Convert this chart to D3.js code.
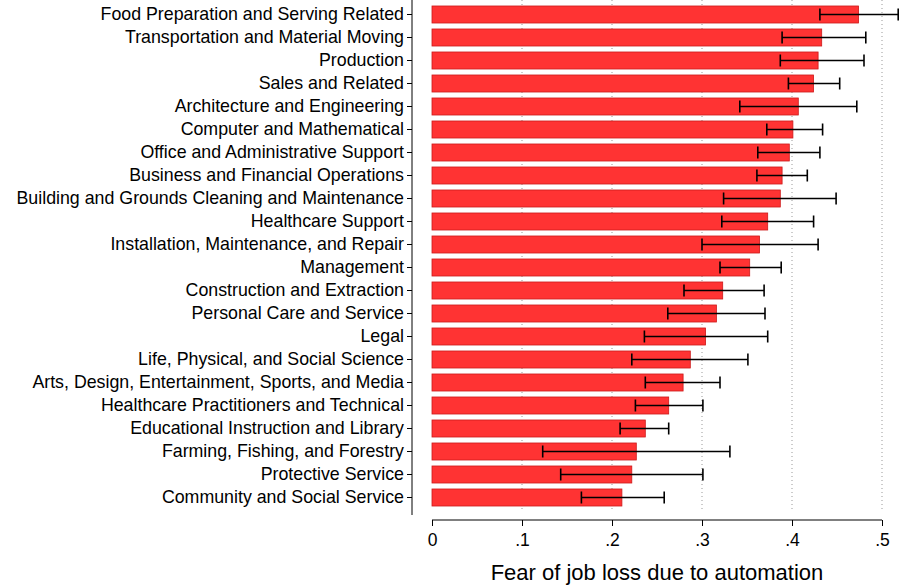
<!DOCTYPE html>
<html><head><meta charset="utf-8">
<script src="https://cdn.jsdelivr.net/npm/d3@7"></script>
<style>body{margin:0;background:#fff}</style>
</head><body>
<script>
// occupation groups, top to bottom
let categories = ['Food Preparation and Serving Related', 'Transportation and Material Moving', 'Production',
  'Sales and Related', 'Architecture and Engineering', 'Computer and Mathematical',
  'Office and Administrative Support', 'Business and Financial Operations',
  'Building and Grounds Cleaning and Maintenance', 'Healthcare Support',
  'Installation, Maintenance, and Repair', 'Management', 'Construction and Extraction',
  'Personal Care and Service', 'Legal', 'Life, Physical, and Social Science',
  'Arts, Design, Entertainment, Sports, and Media', 'Healthcare Practitioners and Technical',
  'Educational Instruction and Library', 'Farming, Fishing, and Forestry', 'Protective Service',
  'Community and Social Service']
let means = [.474, .433, .429, .424, .407, .401, .397, .389, .387, .373, .364, .353, .323, .316, .304, .287, .279, .263, .237, .227, .222, .211]
let lows = [.431, .389, .387, .396, .342, .372, .362, .361, .324, .322, .300, .320, .280, .262, .236, .222, .237, .226, .209, .123, .143, .166]
let highs = [.518, .482, .480, .453, .472, .434, .431, .417, .449, .424, .429, .388, .369, .370, .373, .351, .320, .301, .263, .331, .301, .258]
let ticks = [0, .1, .2, .3, .4, .5]
let tickLabels = ['0', '.1', '.2', '.3', '.4', '.5']

let width = 899
let height = 587
let svg = d3.select('body').append('svg').attr('width', width).attr('height', height)
  .style('font-family', 'Liberation Sans, Arial, sans-serif')

let x = d3.scaleLinear().domain([0, .5]).range([432, 882])
let y = d3.scaleBand().domain(categories).range([3, 509]).paddingInner(0.26).paddingOuter(0.13)

// dotted gridlines
svg.selectAll('.grid').data(ticks.slice(1)).join('line')
  .attr('x1', d => x(d)).attr('x2', d => x(d))
  .attr('y1', 0).attr('y2', 512)
  .attr('stroke', '#999').attr('stroke-dasharray', '1,3')

// bars
svg.selectAll('.bar').data(categories).join('rect')
  .attr('x', x(0)).attr('y', d => y(d))
  .attr('width', (d, i) => x(means[i]) - x(0)).attr('height', y.bandwidth())
  .attr('fill', '#ff3333').attr('stroke', '#cc1a1a').attr('stroke-width', 0.8)

// error bars
let g = svg.selectAll('.err').data(categories).join('g')
  .attr('transform', d => `translate(0,${y(d) + y.bandwidth() / 2})`)
g.append('line').attr('x1', (d, i) => x(lows[i])).attr('x2', (d, i) => x(highs[i]))
  .attr('stroke', '#000').attr('stroke-width', 1.6)
g.append('line').attr('x1', (d, i) => x(lows[i])).attr('x2', (d, i) => x(lows[i]))
  .attr('y1', -6).attr('y2', 6).attr('stroke', '#000').attr('stroke-width', 1.6)
g.append('line').attr('x1', (d, i) => x(highs[i])).attr('x2', (d, i) => x(highs[i]))
  .attr('y1', -6).attr('y2', 6).attr('stroke', '#000').attr('stroke-width', 1.6)

// y axis
let yAxis = d3.axisLeft(y).tickSize(5).tickPadding(3)
let ya = svg.append('g').attr('transform', 'translate(412,0)').call(yAxis)
ya.select('.domain').attr('d', 'M0,0V515')
ya.selectAll('text').style('font-size', '17.8px').attr('fill', '#000')

// x axis
let xAxis = d3.axisBottom(x).tickValues(ticks).tickFormat((d, i) => tickLabels[i]).tickSize(6).tickPadding(8)
let xa = svg.append('g').attr('transform', 'translate(0,520)').call(xAxis)
xa.select('.domain').attr('d', `M${x(0)},0H${x(.5)}`)
xa.selectAll('text').style('font-size', '17.5px').attr('fill', '#000')

svg.append('text').attr('x', x(.25)).attr('y', 580).attr('text-anchor', 'middle')
  .style('font-size', '22px').text('Fear of job loss due to automation')
</script>
</body></html>
